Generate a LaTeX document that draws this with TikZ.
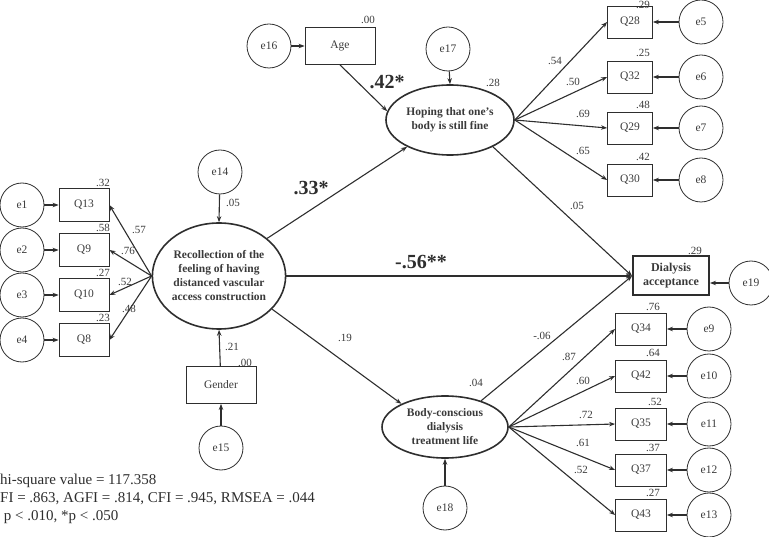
\documentclass[tikz,border=0pt]{standalone}
\usepackage{fontspec}
\setmainfont{Liberation Serif}
\usetikzlibrary{shapes.geometric,arrows.meta}
\definecolor{ink}{HTML}{2E2E2E}
\definecolor{txt}{HTML}{3A3A3A}
\begin{document}
\begin{tikzpicture}[x=1pt,y=-1pt,
  err/.style={circle,draw=ink,line width=0.8pt,minimum size=44pt,inner sep=0pt,text=txt,font=\fontsize{11.5}{12}\selectfont},
  obs/.style={rectangle,draw=ink,line width=0.8pt,minimum width=50pt,minimum height=33pt,inner sep=0pt,text=txt,font=\fontsize{11.5}{12}\selectfont},
  obsr/.style={obs,minimum width=45pt,minimum height=32pt},
  obsb/.style={obs,minimum width=51pt,minimum height=32pt},
  lat/.style={ellipse,draw=ink,line width=1.6pt,inner sep=0pt,align=center,text=txt,font=\fontsize{11.5}{14}\selectfont\bfseries},
  arr/.style={draw=ink,-{Stealth[length=6pt,width=4.5pt]},line width=1.1pt},
  lbl/.style={font=\fontsize{11}{12}\selectfont,inner sep=0pt,text=txt},
  bigl/.style={font=\fontsize{20}{22}\selectfont\bfseries,inner sep=0pt,text=ink},
  notetxt/.style={font=\fontsize{15}{17}\selectfont,inner sep=0pt,anchor=base west,text=ink}]
\useasboundingbox (0,0) rectangle (769,537);

% left indicators
\node[err] (e1) at (22,205) {e1};
\node[err] (e2) at (22,250) {e2};
\node[err] (e3) at (22,295) {e3};
\node[err] (e4) at (22,340) {e4};
\node[obs] (q13) at (84,205) {Q13};
\node[obs] (q9) at (84,250) {Q9};
\node[obs] (q10) at (84,295) {Q10};
\node[obs] (q8) at (84,340) {Q8};

% latent recollection
\node[lat,minimum width=122pt,minimum height=106pt] (rec) at (219,276)
  {Recollection of the\\feeling of having\\distanced vascular\\access construction};
\node[err] (e14) at (220,172) {e14};
\node[obs,minimum width=70pt,minimum height=37pt] (gen) at (221,385) {Gender};
\node[err] (e15) at (221,448) {e15};

% top
\node[obs,minimum width=70pt,minimum height=37pt] (age) at (340,46) {Age};
\node[err] (e16) at (269,46) {e16};
\node[err] (e17) at (448,49) {e17};
\node[lat,minimum width=128pt,minimum height=70pt] (hope) at (450,120)
  {Hoping that one's\\body is still fine};

\node[obsr] (q28) at (630,22) {Q28};
\node[obsr] (q32) at (630,77) {Q32};
\node[obsr] (q29) at (630,128) {Q29};
\node[obsr] (q30) at (630,180) {Q30};
\node[err] (e5) at (701,22) {e5};
\node[err] (e6) at (701,77) {e6};
\node[err] (e7) at (701,128) {e7};
\node[err] (e8) at (701,180) {e8};

% dialysis
\node[rectangle,draw=ink,line width=2pt,minimum width=76pt,minimum height=39pt,inner sep=0pt,align=center,text=txt,font=\fontsize{12}{14}\selectfont\bfseries] (dia) at (671,276) {Dialysis\\acceptance};
\node[err] (e19) at (751,283) {e19};

% body
\node[lat,minimum width=126pt,minimum height=62pt] (body) at (445,427)
  {Body-conscious\\dialysis\\treatment life};
\node[err] (e18) at (445,508) {e18};
\node[obsb] (q34) at (641,329) {Q34};
\node[obsb] (q42) at (641,376) {Q42};
\node[obsb] (q35) at (641,424) {Q35};
\node[obsb] (q37) at (641,470) {Q37};
\node[obsb] (q43) at (641,515) {Q43};
\node[err] (e9) at (709,329) {e9};
\node[err] (e10) at (709,376) {e10};
\node[err] (e11) at (709,424) {e11};
\node[err] (e12) at (709,470) {e12};
\node[err] (e13) at (709,515) {e13};

% connectors
\foreach \e/\q in {e1/q13,e2/q9,e3/q10,e4/q8}{\draw[arr] (\e) -- (\q);}
\foreach \q in {q13,q9,q10,q8}{\draw[arr] (rec.west) -- (\q.east);}
\draw[arr] (e14) -- (rec.north);
\draw[arr] (e15) -- (gen);
\draw[arr] (gen) -- (rec.south);
\draw[arr] (e16) -- (age);
\draw[arr] (age.south) -- (hope.172);
\draw[arr] (e17) -- (hope.north);
\foreach \q in {q28,q32,q29,q30}{\draw[arr] (hope.east) -- (\q.west);}
\draw[arr] (e5) -- (q28); \draw[arr] (e6) -- (q32); \draw[arr] (e7) -- (q29); \draw[arr] (e8) -- (q30);
\draw[arr] (rec.38) -- (hope.212);
\draw[arr] (rec.-32) -- (body.152);
\draw[arr] (rec.east) -- (dia.west);
\draw[arr] (hope.-32) -- (dia.west);
\draw[arr] (body.36) -- (dia.west);
\draw[arr] (e19.west) -- (e19.west -| dia.east);
\draw[arr] (e18) -- (body.south);
\foreach \q in {q34,q42,q35,q37,q43}{\draw[arr] (body.east) -- (\q.west);}
\draw[arr] (e9) -- (q34); \draw[arr] (e10) -- (q42); \draw[arr] (e11) -- (q35); \draw[arr] (e12) -- (q37); \draw[arr] (e13) -- (q43);

% labels
\node[lbl] (r13) at (103,183) {.32};
\node[lbl] (r9) at (103,228) {.58};
\node[lbl] (r10) at (103,273) {.27};
\node[lbl] (r8) at (103,318) {.23};
\node[lbl] (l13) at (139,230) {.57};
\node[lbl] (l9) at (128,251) {.76};
\node[lbl] (l10) at (125,282) {.52};
\node[lbl] (l8) at (129,309) {.48};
\node[lbl] (r14) at (233,203) {.05};
\node[lbl] (lgen) at (232,347) {.21};
\node[lbl] (rgen) at (245,363) {.00};
\node[lbl] (rage) at (368,20) {.00};
\node[bigl] (lage) at (387,82) {.42*};
\node[lbl] (rhope) at (493,83) {.28};
\node[lbl] (r28) at (643,5) {.29};
\node[lbl] (r32) at (643,53) {.25};
\node[lbl] (r29) at (643,105) {.48};
\node[lbl] (r30) at (643,157) {.42};
\node[lbl] (l28) at (555,61) {.54};
\node[lbl] (l32) at (573,82) {.50};
\node[lbl] (l29) at (583,114) {.69};
\node[lbl] (l30) at (583,151) {.65};
\node[bigl] (lrh) at (311,188) {.33*};
\node[lbl] (lhd) at (577,206) {.05};
\node[bigl] (lrd) at (421,262) {-.56**};
\node[lbl] (rdia) at (695,251) {.29};
\node[lbl] (lrb) at (345,338) {.19};
\node[lbl] (lbd) at (542,336) {-.06};
\node[lbl] (rbody) at (476,383) {.04};
\node[lbl] (r34) at (653,307) {.76};
\node[lbl] (r42) at (653,353) {.64};
\node[lbl] (r35) at (655,402) {.52};
\node[lbl] (r37) at (653,448) {.37};
\node[lbl] (r43) at (653,493) {.27};
\node[lbl] (l34) at (569,357) {.87};
\node[lbl] (l42) at (583,381) {.60};
\node[lbl] (l35) at (586,415) {.72};
\node[lbl] (l37) at (583,443) {.61};
\node[lbl] (l43) at (581,470) {.52};

% notes
\node[notetxt] (n1) at (0,484) {hi-square value = 117.358};
\node[notetxt] (n2) at (0,502) {FI = .863, AGFI = .814, CFI = .945, RMSEA = .044};
\node[notetxt] (n3) at (0,520) {\ p < .010, *p < .050};
\end{tikzpicture}
\end{document}
